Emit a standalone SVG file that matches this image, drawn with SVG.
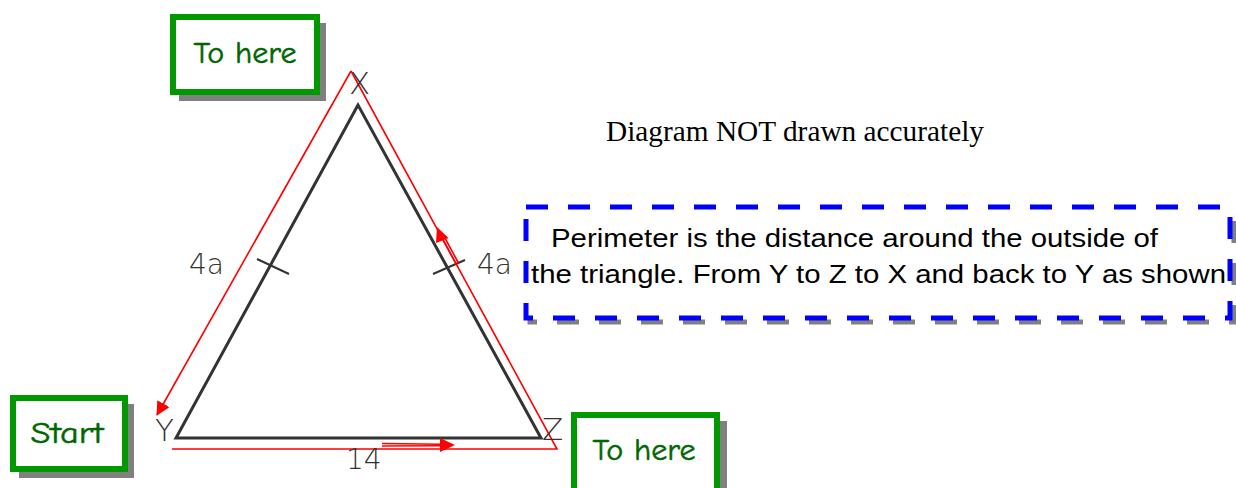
<svg xmlns="http://www.w3.org/2000/svg" width="1236" height="488" viewBox="0 0 1236 488">
<defs>
<marker id="ah" viewBox="0 0 14 14" refX="13" refY="7" markerWidth="14" markerHeight="14" markerUnits="userSpaceOnUse" orient="auto">
<path d="M0,0 L14,7 L0,14 Z" fill="#ff0000"/>
</marker>
</defs>
<style>
.gbox{fill:#ffffff;stroke:#009900;stroke-width:6}
.shadow{fill:#808080}
.gtxt{font-family:"Comic Sans MS","Comic Neue","DejaVu Sans",sans-serif;font-size:31px;fill:#006600;stroke:#006600;stroke-width:0.5;text-anchor:middle}
.cad{font-family:"DejaVu Sans",sans-serif;font-weight:200;fill:#333333}
.tri{fill:none;stroke:#333333;stroke-width:3;stroke-linejoin:miter}
.red{fill:none;stroke:#ff0000;stroke-width:1.6}
.tick{stroke:#333333;stroke-width:2}
.note{font-family:"Liberation Sans",Arial,sans-serif;font-size:26px;fill:#000000}
</style>
<rect width="1236" height="488" fill="#ffffff"/>

<g id="triangle">
<path class="tri" d="M358,105 L176,438 L541,438 Z"/>
<line class="tick" x1="257" y1="259" x2="289" y2="274"/>
<line class="tick" x1="433" y1="274" x2="465" y2="260"/>
</g>

<g id="connectors">
<path class="red" d="M172,449 L557,449 L351,71"/>
<line class="red" x1="351" y1="71" x2="157" y2="415" marker-end="url(#ah)"/>
<path class="red" d="M382,443.5 L442,444.2 M382,446 L442,445.8"/>
<path d="M440,438 L455,445 L440,452 Z" fill="#ff0000"/>
<path class="red" d="M458.5,263 L443,234.5 M456.3,264.2 L440.8,235.7"/>
<path d="M437,227 L448.5,238 L436,243 Z" fill="#ff0000"/>
</g>

<g id="labels">
<text class="cad" x="349" y="94" font-size="31">X</text>
<text class="cad" x="155" y="441" font-size="31">Y</text>
<text class="cad" x="542" y="440" font-size="31">Z</text>
<text class="cad" x="346" y="469" font-size="28">14</text>
<text class="cad" x="189" y="274" font-size="28">4a</text>
<text class="cad" x="477" y="274" font-size="28">4a</text>
</g>

<g id="node-to-here-top">
<rect class="shadow" x="179" y="23" width="147" height="78"/>
<rect class="gbox" x="173" y="17" width="144" height="75"/>
<text class="gtxt" x="245" y="63" textLength="103" lengthAdjust="spacingAndGlyphs">To here</text>
</g>

<g id="node-start">
<rect class="shadow" x="19" y="404" width="115" height="74"/>
<rect class="gbox" x="13" y="398" width="112" height="71"/>
<text class="gtxt" x="67" y="443" textLength="73" lengthAdjust="spacingAndGlyphs">Start</text>
</g>

<g id="node-to-here-bottom">
<rect class="shadow" x="580" y="421" width="147" height="80"/>
<rect class="gbox" x="574" y="415" width="143" height="80"/>
<text class="gtxt" x="644" y="460" textLength="103" lengthAdjust="spacingAndGlyphs">To here</text>
</g>

<g id="caption">
<text x="606" y="141" font-family="Liberation Serif,'Times New Roman',serif" font-size="29" fill="#000000" textLength="378" lengthAdjust="spacingAndGlyphs">Diagram NOT drawn accurately</text>
</g>

<g id="node-note">
<rect x="530" y="211" width="704" height="111" fill="none" stroke="#808080" stroke-width="5" stroke-dasharray="22 20"/>
<rect x="526" y="207" width="704" height="111" fill="#ffffff" stroke="#0000ff" stroke-width="5" stroke-dasharray="22 20"/>
<text class="note" x="551" y="247" textLength="607" lengthAdjust="spacingAndGlyphs">Perimeter is the distance around the outside of</text>
<text class="note" x="531" y="283" textLength="695" lengthAdjust="spacingAndGlyphs">the triangle. From Y to Z to X and back to Y as shown</text>
</g>
</svg>
